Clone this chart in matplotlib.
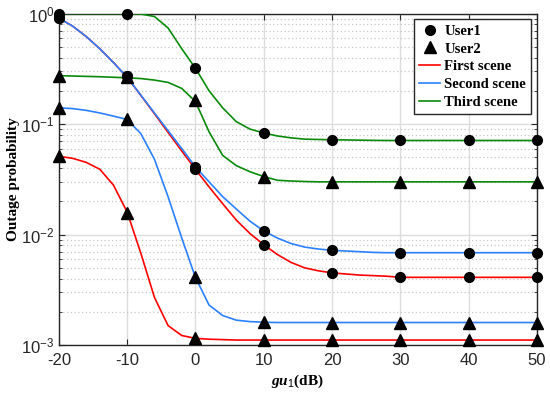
import numpy as np
import matplotlib
matplotlib.use("Agg")
import matplotlib.pyplot as plt
from matplotlib.ticker import LogLocator, FixedLocator
from matplotlib.lines import Line2D

plt.rcParams['font.family'] = ['Liberation Sans', 'DejaVu Sans']
plt.rcParams['mathtext.fontset'] = 'custom'
plt.rcParams['mathtext.rm'] = 'Liberation Sans'
plt.rcParams['mathtext.it'] = 'Liberation Serif:italic:bold'
plt.rcParams['mathtext.bf'] = 'Liberation Serif:bold'

# line data (2 dB steps)
x_line = list(range(-20, 51, 2))
red_u1 = [0.91, 0.77, 0.62, 0.48, 0.36, 0.265, 0.182, 0.124, 0.084, 0.057, 0.039, 0.027, 0.019, 0.0135, 0.0102,
          0.0081, 0.0066, 0.0056, 0.0050, 0.0047, 0.0045, 0.0044, 0.0043, 0.00425, 0.0042] + [0.0041] * 11
blue_u1 = [0.91, 0.77, 0.62, 0.48, 0.36, 0.265, 0.183, 0.126, 0.087, 0.060, 0.041, 0.030, 0.022, 0.017, 0.0132,
           0.0108, 0.0093, 0.0083, 0.0077, 0.0074, 0.0072, 0.0071, 0.0070, 0.0069, 0.00685] + [0.00685] * 11
green_u1 = [1.0] * 6 + [0.99, 0.94, 0.74, 0.48, 0.32, 0.20, 0.14, 0.105, 0.090, 0.083, 0.078, 0.075, 0.073,
                        0.0725, 0.072, 0.0718, 0.0715, 0.0712, 0.071] + [0.071] * 11
red_u2 = [0.051, 0.049, 0.045, 0.039, 0.028, 0.0160, 0.0068, 0.0027, 0.0015, 0.00122, 0.00115, 0.00113,
          0.00112, 0.00111] + [0.00111] * 11 + [0.00111] * 11
blue_u2 = [0.14, 0.138, 0.133, 0.126, 0.118, 0.110, 0.082, 0.048, 0.022, 0.0093, 0.0041, 0.0023, 0.00185,
           0.00168, 0.00163, 0.00161] + [0.0016] * 9 + [0.0016] * 11
green_u2 = [0.274, 0.272, 0.270, 0.268, 0.265, 0.262, 0.258, 0.25, 0.238, 0.21, 0.16, 0.085, 0.052, 0.042,
            0.037, 0.0335, 0.031, 0.0305, 0.0302] + [0.030] * 6 + [0.030] * 11

# marker data (10 dB steps)
x_mark = [-20, -10, 0, 10, 20, 30, 40, 50]
red_u1_m = [0.91, 0.27, 0.039, 0.0080, 0.0045, 0.0041, 0.0041, 0.0041]
blue_u1_m = [0.91, 0.27, 0.041, 0.0108, 0.0072, 0.00685, 0.00685, 0.00685]
green_u1_m = [1.0, 1.0, 0.324, 0.0826, 0.072, 0.0715, 0.0715, 0.0715]
red_u2_m = [0.051, 0.0156, 0.00115, 0.00111, 0.00111, 0.00111, 0.00111, 0.00111]
blue_u2_m = [0.14, 0.112, 0.0041, 0.00162, 0.0016, 0.0016, 0.0016, 0.0016]
green_u2_m = [0.274, 0.267, 0.164, 0.033, 0.030, 0.030, 0.030, 0.030]

x_ticks = [-20, -10, 0, 10, 20, 30, 40, 50]
legend_labels = ['User1', 'User2', 'First scene', 'Second scene', 'Third scene']

RED = '#ff0000'
BLUE = '#2b80ff'
GREEN = '#0a8a0a'

fig = plt.figure(figsize=(5.5, 3.98), dpi=100)
ax = fig.add_axes([0.107, 0.133, 0.869, 0.833])

lw = 1.2
for vals, c in [(red_u1, RED), (red_u2, RED), (blue_u1, BLUE), (blue_u2, BLUE), (green_u1, GREEN), (green_u2, GREEN)]:
    ax.plot(x_line, vals, color=c, lw=lw, zorder=3)

for vals in [red_u1_m, blue_u1_m, green_u1_m]:
    ax.plot(x_mark, vals, ls='none', marker='o', ms=7, color='k', zorder=4, clip_on=False)
for vals in [red_u2_m, blue_u2_m, green_u2_m]:
    ax.plot(x_mark, vals, ls='none', marker='^', ms=8, color='k', zorder=4, clip_on=False)

ax.set_yscale('log')
ax.set_xlim(-20, 50)
ax.set_ylim(1e-3, 1)
ax.xaxis.set_major_locator(FixedLocator(x_ticks))
ax.set_xticklabels([str(t) for t in x_ticks])
ax.yaxis.set_major_locator(LogLocator(base=10, numticks=10))
ax.yaxis.set_minor_locator(LogLocator(base=10, subs=np.arange(2, 10), numticks=20))

ax.grid(True, which='major', color='#dddddd', lw=1.0, ls='-', zorder=0)
ax.grid(True, which='minor', axis='y', color='#c8c8c8', lw=0.9, ls=(0, (1, 2)), zorder=0)
ax.set_axisbelow(True)

ax.tick_params(which='both', direction='in', top=True, right=True, labelsize=12, colors='#262626')
ax.tick_params(axis='x', pad=6)
ax.tick_params(axis='y', pad=3)
ax.tick_params(which='major', length=4)
ax.tick_params(which='minor', length=2.5)
for s in ax.spines.values():
    s.set_color('#262626')
    s.set_linewidth(1.0)

ax.set_xlabel(r'$\mathit{gu}_{\mathit{1}}\mathbf{(dB)}$', fontsize=11, labelpad=3)
ax.set_ylabel('Outage probability', family=['Liberation Serif'], fontweight='bold', fontsize=11, labelpad=1)

handles = [
    Line2D([], [], ls='none', marker='o', ms=7, color='k'),
    Line2D([], [], ls='none', marker='^', ms=8, color='k'),
    Line2D([], [], color=RED, lw=lw),
    Line2D([], [], color=BLUE, lw=lw),
    Line2D([], [], color=GREEN, lw=lw),
]
leg = ax.legend(handles, legend_labels, loc='upper right', fancybox=False, framealpha=1,
                edgecolor='#262626', prop={'family': 'Liberation Serif', 'weight': 'bold', 'size': 10.5},
                handlelength=1.45, handletextpad=0.25, borderaxespad=0.4, labelspacing=0.32,
                borderpad=0.35)
leg.get_frame().set_linewidth(1.0)

fig.savefig('out.png', dpi=100)
